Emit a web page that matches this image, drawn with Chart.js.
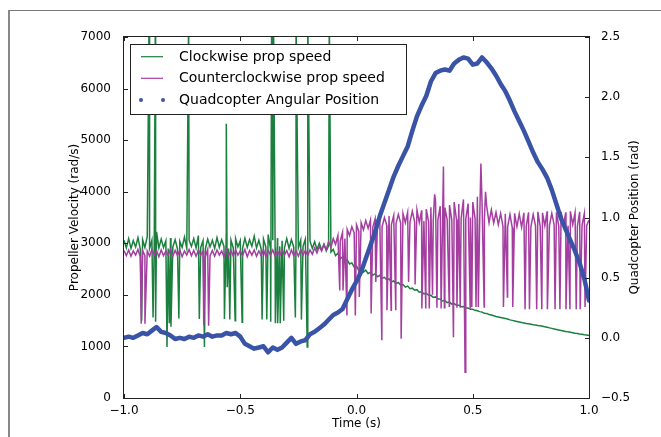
<!DOCTYPE html>
<html>
<head>
<meta charset="utf-8">
<script src="https://cdn.jsdelivr.net/npm/chart.js@4.4.1/dist/chart.umd.min.js"></script>
<style>
  html, body { margin: 0; padding: 0; background: #fff; }
  #wrap { position: relative; width: 661px; height: 437px; overflow: hidden; }
  #frame { position: absolute; left: 8px; top: 10px; width: 700px; height: 500px; border-top: 1px solid #777; border-left: 2px solid #888; }
  canvas { position: absolute; left: 0; top: 0; }
</style>
</head>
<body>
<div id="wrap">
  <div id="frame"></div>
  <canvas id="chart" width="661" height="437"></canvas>
</div>
<script>
// sampling grid of the prop speed traces (s)
const speedStart = -1;
const speedStep = 0.01;

// clockwise prop speed (rad/s), one value per 0.01 s from -1.00 to 1.00
const cwSpeed = [
  3060, 2910, 3090, 2900, 3050, 2930, 3110, 2890, 3070, 2920,
  3130, 2900, 3060, 2940, 3220, 2910, 3080, 2920, 3050, 2900,
  3100, 2930, 3070, 2890, 3040, 2920, 3120, 2900, 3060, 2940,
  3090, 2910, 3150, 2920, 3050, 2890, 3080, 2930, 3060, 2900,
  3110, 2920, 3070, 2940, 3230, 2900, 3060, 2910, 3090, 2930,
  3050, 2900, 3100, 2920, 3070, 2940, 3140, 2910, 3060, 2890,
  3080, 2930, 3170, 2900, 3060, 2920, 3100, 2940, 3050, 2910,
  3090, 2900, 3070, 2930, 3120, 2910, 3060, 2940, 3080, 2920,
  3040, 2900, 3030, 2880, 3000, 2870, 2980, 2850, 2950, 2830,
  2880, 2760, 2810, 2700, 2740, 2650, 2680, 2600, 2620, 2540,
  2560, 2470, 2520, 2440, 2480, 2410, 2440, 2380, 2410, 2350,
  2380, 2320, 2340, 2290, 2310, 2250, 2270, 2220, 2240, 2190,
  2200, 2150, 2170, 2120, 2130, 2090, 2100, 2050, 2060, 2020,
  2030, 1990, 1990, 1950, 1960, 1920, 1920, 1880, 1890, 1850,
  1860, 1820, 1830, 1800, 1800, 1770, 1775, 1745, 1745, 1720,
  1720, 1700, 1690, 1675, 1665, 1645, 1640, 1620, 1610, 1595,
  1580, 1570, 1560, 1550, 1540, 1530, 1515, 1505, 1495, 1485,
  1475, 1465, 1455, 1445, 1440, 1430, 1420, 1415, 1405, 1400,
  1390, 1380, 1370, 1360, 1350, 1340, 1330, 1320, 1310, 1300,
  1290, 1285, 1275, 1265, 1255, 1250, 1240, 1235, 1225, 1220, 1210
];

// single-sample glitches in the clockwise trace
const cwSpikeTimes = [
  -0.892, -0.865, -0.722, -0.560, -0.365, -0.361, -0.357, -0.260, -0.209, -0.117,
  -0.924, -0.875, -0.864, -0.815, -0.805, -0.798, -0.764, -0.676, -0.654, -0.568,
  -0.556, -0.545, -0.522, -0.492, -0.406, -0.386, -0.369, -0.349, -0.339, -0.328,
  -0.313, -0.263, -0.237, -0.212
];
const cwSpikeValues = [
  7400, 7400, 7400, 5320, 7400, 7400, 7400, 7400, 7400, 7400,
  1500, 1560, 1480, 990, 1450, 1380, 1540, 1530, 990, 1530,
  2150, 1520, 1500, 1470, 1520, 1520, 1480, 1450, 1450, 1450,
  1500, 1560, 1520, 990
];

// counterclockwise prop speed (rad/s), same grid
const ccwSpeed = [
  2860, 2760, 2870, 2750, 2850, 2770, 2880, 2740, 2860, 2760,
  2850, 2750, 2880, 2770, 2860, 2740, 2870, 2760, 2850, 2770,
  2880, 2750, 2860, 2760, 2870, 2740, 2850, 2770, 2880, 2760,
  2860, 2750, 2870, 2770, 2850, 2740, 2880, 2760, 2860, 2750,
  2870, 2770, 2850, 2740, 2880, 2760, 2860, 2750, 2870, 2770,
  2850, 2760, 2880, 2740, 2860, 2770, 2870, 2750, 2850, 2760,
  2880, 2740, 2860, 2770, 2870, 2750, 2850, 2760, 2880, 2770,
  2860, 2740, 2870, 2760, 2850, 2750, 2880, 2770, 2860, 2760,
  2870, 2790, 2910, 2810, 2940, 2850, 2980, 2880, 3030, 2920,
  3090, 2980, 3150, 3040, 3210, 3090, 3270, 3150, 3320, 3200,
  3360, 3230, 3400, 3260, 3440, 3290, 3450, 3310, 3470, 3330,
  3480, 3320, 3500, 3350, 3530, 3360, 3540, 3380, 3560, 3390,
  3580, 3400, 3600, 3410, 3620, 3420, 3650, 3400, 3640, 3430,
  3660, 3420, 3700, 3430, 3820, 3450, 3720, 3410, 3690, 3460,
  3740, 3450, 3800, 3460, 3760, 3480, 3850, 3470, 3770, 3500,
  3800, 3480, 3900, 3470, 3780, 3450, 3720, 3400, 3650, 3390,
  3600, 3360, 3580, 3330, 3570, 3320, 3560, 3300, 3580, 3320,
  3570, 3310, 3590, 3330, 3600, 3320, 3560, 3340, 3610, 3330,
  3590, 3340, 3620, 3350, 3580, 3360, 3600, 3330, 3610, 3350,
  3600, 3340, 3620, 3360, 3590, 3330, 3610, 3350, 3580, 3340, 3450
];

const ccwSpikeTimes = [
  -0.926, -0.910, -0.657, -0.636,
  -0.072, -0.058, -0.041, -0.005, 0.012, 0.063, 0.083, 0.109, 0.131, 0.149,
  0.169, 0.192, 0.224, 0.252, 0.281, 0.298, 0.313, 0.327, 0.336, 0.346,
  0.364, 0.374, 0.378, 0.399, 0.417, 0.432, 0.446, 0.467, 0.489, 0.496,
  0.514, 0.524, 0.535, 0.549, 0.555, 0.632, 0.649, 0.672, 0.725, 0.744,
  0.775, 0.797, 0.821, 0.854, 0.875, 0.901, 0.918, 0.945, 0.962, 0.983
];
const ccwSpikeValues = [
  1440, 1440, 1410, 1400,
  2085, 2085, 1600, 1600, 1960, 1640, 2250, 1120, 1700, 1700,
  1700, 1150, 2250, 2200, 1735, 1735, 1735, 2000, 3950, 1750,
  1735, 4490, 1750, 1780, 1180, 1750, 1750, 500, 1750, 1765,
  1765, 1765, 4545, 1765, 4000, 1765, 1960, 1765, 1720, 1720,
  1720, 1720, 1720, 1720, 1720, 1720, 1720, 1720, 1720, 1765
];

// quadcopter angular position (rad), one value per 0.02 s from -1.00 to 1.00
const angleStart = -1;
const angleStep = 0.02;
const angle = [
  0.00, 0.01, 0.00, 0.02, 0.04, 0.03, 0.06, 0.09, 0.05, 0.04,
  0.02, -0.01, 0.00, -0.01, 0.01, 0.00, 0.02, 0.01, 0.03, 0.01,
  0.02, 0.02, 0.04, 0.03, 0.04, 0.01, -0.05, -0.07, -0.09, -0.08,
  -0.07, -0.12, -0.08, -0.10, -0.08, -0.04, 0.00, -0.05, -0.03, -0.02,
  0.03, 0.05, 0.08, 0.11, 0.15, 0.19, 0.21, 0.24, 0.32, 0.40,
  0.47, 0.55, 0.66, 0.77, 0.88, 1.01, 1.12, 1.23, 1.34, 1.43,
  1.51, 1.59, 1.72, 1.84, 1.93, 2.01, 2.13, 2.20, 2.22, 2.23,
  2.22, 2.28, 2.31, 2.33, 2.32, 2.27, 2.28, 2.33, 2.29, 2.24,
  2.18, 2.11, 2.05, 1.97, 1.88, 1.80, 1.72, 1.63, 1.54, 1.46,
  1.40, 1.33, 1.23, 1.11, 0.99, 0.90, 0.81, 0.72, 0.62, 0.49, 0.31
];

const xTicks = [-1, -0.5, 0, 0.5, 1];
const speedTicks = [0, 1000, 2000, 3000, 4000, 5000, 6000, 7000];
const angleTicks = [-0.5, 0, 0.5, 1, 1.5, 2, 2.5];

const legendLabels = [
  "Clockwise prop speed",
  "Counterclockwise prop speed",
  "Quadcopter Angular Position"
];

const GREEN = "#1b7f3e";
const MAGENTA = "#a43ea1";
const BLUE = "#3953a6";
const FONT = "'DejaVu Sans', sans-serif";

const toPoints = (start, step, values, spikeTimes = [], spikeValues = []) => {
  const pts = values.map((v, i) => ({ x: +(start + i * step).toFixed(3), y: v }));
  spikeTimes.forEach((t, i) => pts.push({ x: t, y: spikeValues[i] }));
  return pts.sort((a, b) => a.x - b.x);
};

const fmt = (v) => (v < 0 ? "\u2212" : "") + Math.abs(v).toFixed(1);

const decor = {
  id: "decor",
  afterDraw(chart) {
    const { ctx, chartArea: a, scales } = chart;
    ctx.save();

    // axes frame
    ctx.strokeStyle = "#222";
    ctx.lineWidth = 1;
    ctx.strokeRect(a.left - 0.5, a.top - 0.5, a.right - a.left + 1, a.bottom - a.top + 1);

    // inward tick marks
    const tl = 4;
    ctx.beginPath();
    xTicks.forEach((v) => {
      const px = Math.round(scales.x.getPixelForValue(v)) + 0.5;
      ctx.moveTo(px, a.bottom); ctx.lineTo(px, a.bottom - tl);
      ctx.moveTo(px, a.top); ctx.lineTo(px, a.top + tl);
    });
    speedTicks.forEach((v) => {
      const py = Math.round(scales.y.getPixelForValue(v)) + 0.5;
      ctx.moveTo(a.left, py); ctx.lineTo(a.left + tl, py);
    });
    angleTicks.forEach((v) => {
      const py = Math.round(scales.y2.getPixelForValue(v)) + 0.5;
      ctx.moveTo(a.right, py); ctx.lineTo(a.right - tl, py);
    });
    ctx.stroke();

    // axis titles
    ctx.fillStyle = "#000";
    ctx.font = "12px " + FONT;
    ctx.textAlign = "center";
    ctx.textBaseline = "middle";
    ctx.fillText("Time (s)", (a.left + a.right) / 2, 424);
    const midY = (a.top + a.bottom) / 2;
    ctx.save();
    ctx.translate(75, midY);
    ctx.rotate(-Math.PI / 2);
    ctx.fillText("Propeller Velocity (rad/s)", 0, 0);
    ctx.restore();
    ctx.save();
    ctx.translate(634.5, midY);
    ctx.rotate(-Math.PI / 2);
    ctx.fillText("Quadcopter Position (rad)", 0, 0);
    ctx.restore();

    // legend box
    const bx = 130.5, by = 44.5, bw = 276, bh = 70;
    ctx.fillStyle = "#fff";
    ctx.fillRect(bx, by, bw, bh);
    ctx.strokeStyle = "#222";
    ctx.strokeRect(bx, by, bw, bh);
    const rows = [56.7, 78.3, 100];
    ctx.lineWidth = 1.2;
    ctx.strokeStyle = GREEN;
    ctx.beginPath(); ctx.moveTo(141, rows[0]); ctx.lineTo(163, rows[0]); ctx.stroke();
    ctx.strokeStyle = MAGENTA;
    ctx.beginPath(); ctx.moveTo(141, rows[1]); ctx.lineTo(163, rows[1]); ctx.stroke();
    ctx.fillStyle = BLUE;
    [141, 163].forEach((cx) => {
      ctx.beginPath(); ctx.arc(cx, rows[2], 2, 0, Math.PI * 2); ctx.fill();
    });
    ctx.fillStyle = "#000";
    ctx.font = "14px " + FONT;
    ctx.textAlign = "left";
    legendLabels.forEach((t, i) => ctx.fillText(t, 179, rows[i] + 0.5));

    ctx.restore();
  }
};

new Chart(document.getElementById("chart").getContext("2d"), {
  type: "line",
  data: {
    datasets: [
      {
        label: legendLabels[2],
        data: toPoints(angleStart, angleStep, angle),
        yAxisID: "y2",
        borderColor: BLUE,
        borderWidth: 4.5,
        borderCapStyle: "round",
        borderJoinStyle: "round",
        pointRadius: 0,
        tension: 0,
        order: 0
      },
      {
        label: legendLabels[1],
        data: toPoints(speedStart, speedStep, ccwSpeed, ccwSpikeTimes, ccwSpikeValues),
        yAxisID: "y",
        borderColor: MAGENTA,
        borderWidth: 1.5,
        pointRadius: 0,
        tension: 0,
        order: 1
      },
      {
        label: legendLabels[0],
        data: toPoints(speedStart, speedStep, cwSpeed, cwSpikeTimes, cwSpikeValues),
        yAxisID: "y",
        borderColor: GREEN,
        borderWidth: 1.5,
        pointRadius: 0,
        tension: 0,
        order: 2
      }
    ]
  },
  options: {
    responsive: false,
    animation: false,
    events: [],
    layout: { padding: { top: 37, left: 0, right: 0, bottom: 0 } },
    plugins: {
      legend: { display: false },
      tooltip: { enabled: false }
    },
    scales: {
      x: {
        type: "linear",
        min: -1,
        max: 1,
        afterBuildTicks: (s) => { s.ticks = xTicks.map((v) => ({ value: v })); },
        afterFit: (s) => { s.height = 39; },
        ticks: { color: "#000", font: { family: FONT, size: 12 }, padding: -2, maxRotation: 0, autoSkip: false, callback: fmt },
        grid: { display: false },
        border: { display: false }
      },
      y: {
        position: "left",
        min: 0,
        max: 7000,
        afterBuildTicks: (s) => { s.ticks = speedTicks.map((v) => ({ value: v })); },
        afterFit: (s) => { s.width = 124; },
        ticks: { color: "#000", font: { family: FONT, size: 12 }, padding: 5, callback: (v) => String(v) },
        grid: { display: false },
        border: { display: false }
      },
      y2: {
        position: "right",
        min: -0.5,
        max: 2.5,
        afterBuildTicks: (s) => { s.ticks = angleTicks.map((v) => ({ value: v })); },
        afterFit: (s) => { s.width = 72; },
        ticks: { color: "#000", font: { family: FONT, size: 12 }, padding: 4, callback: fmt },
        grid: { display: false },
        border: { display: false }
      }
    }
  },
  plugins: [decor]
});
</script>
</body>
</html>
